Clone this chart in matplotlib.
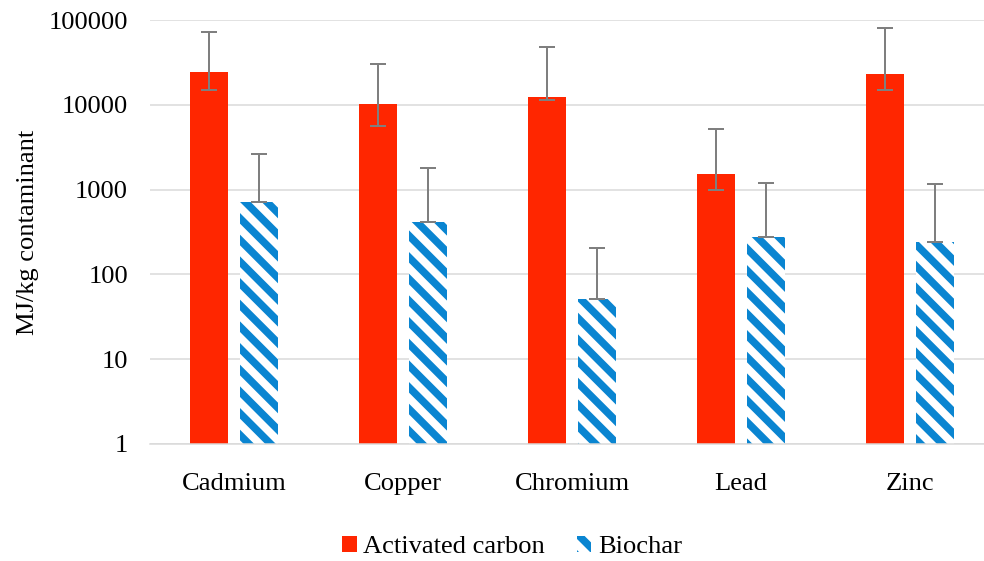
import numpy as np
import matplotlib
matplotlib.use("Agg")
import matplotlib.pyplot as plt
import matplotlib.ticker as mticker

# ── Data ───────────────────────────────────────────────────
metals = ["Cadmium", "Copper", "Chromium", "Lead", "Zinc"]

ac_vals   = [24400, 10200, 12400, 1520, 23000]
ac_err_lo = [9400, 4600, 1000, 520, 8000]
ac_err_hi = [47600, 19800, 35600, 3670, 57500]

bc_vals   = [714, 415, 51, 276, 240]
bc_err_lo = [0, 0, 0, 0, 0]
bc_err_hi = [1920, 1375, 154, 924, 930]

yticks = [1, 10, 100, 1000, 10000, 100000]

DPI = 130
PX = 72 / DPI           # points per pixel
RED = "#FF2600"
BLUE = "#0A85D1"
GREY = "#7F7F7F"
GRID = "#D9D9D9"

plt.rcParams["font.family"] = ["Liberation Serif", "DejaVu Serif"]
plt.rcParams["hatch.linewidth"] = 7.5 * PX
fs = 26.5 * PX

fig = plt.figure(figsize=(984 / DPI, 561 / DPI), dpi=DPI)
ax = fig.add_axes([150 / 984, 1 - 444 / 561, (984 - 150) / 984, 424 / 561])

x = np.arange(len(metals))
w = 0.225
off = 0.148

ax.bar(x - off, ac_vals, w, color=RED, label="Activated carbon", zorder=2)
ax.bar(x + off, bc_vals, w, facecolor="white", edgecolor=BLUE, hatch="\\\\",
       linewidth=0, label="Biochar", zorder=2)

ekw = dict(fmt="none", ecolor=GREY, elinewidth=2 * PX, capsize=8 * PX,
           capthick=2 * PX, zorder=3)
ax.errorbar(x - off, ac_vals, yerr=[ac_err_lo, ac_err_hi], **ekw)
ax.errorbar(x + off, bc_vals, yerr=[bc_err_lo, bc_err_hi], **ekw)

ax.set_yscale("log")
ax.set_ylim(1, 100000)
ax.set_xlim(-0.5, 4.44)
ax.set_yticks(yticks)
ax.yaxis.set_major_formatter(mticker.FuncFormatter(lambda v, p: f"{v:.0f}"))
ax.yaxis.set_minor_locator(mticker.NullLocator())
ax.set_xticks(x)
ax.set_xticklabels(metals)

ax.tick_params(axis="both", length=0, labelsize=fs)
ax.tick_params(axis="y", pad=22 * PX)
ax.tick_params(axis="x", pad=29 * PX)
ax.grid(axis="y", color=GRID, linewidth=1.5 * PX, zorder=0)
ax.set_axisbelow(True)
for s in ["top", "right", "left"]:
    ax.spines[s].set_visible(False)
ax.spines["bottom"].set_color(GRID)
ax.spines["bottom"].set_linewidth(1.5 * PX)

ax.set_ylabel("MJ/kg contaminant", fontsize=fs, labelpad=9 * PX)

fig.legend(loc="center", bbox_to_anchor=(512 / 984, 1 - 547 / 561), ncol=2,
           frameon=False, fontsize=fs, handlelength=0.55, handleheight=0.55,
           handletextpad=0.25, columnspacing=1.2)

fig.savefig("out.png", dpi=DPI)
